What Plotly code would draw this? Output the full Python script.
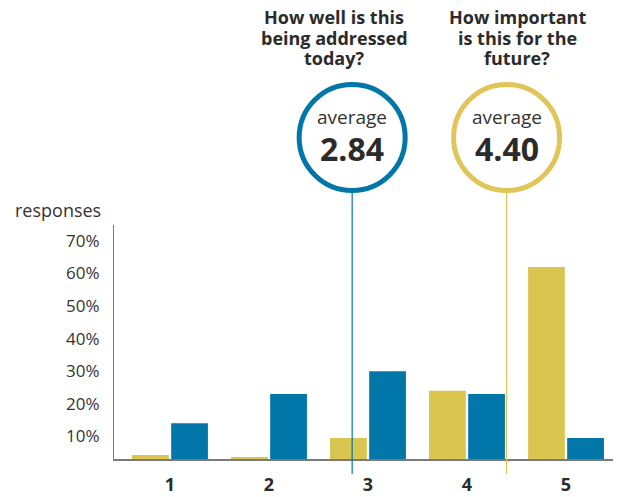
import plotly.graph_objects as go

categories = [1, 2, 3, 4, 5]
future_importance = [4.3, 3.7, 9.5, 24.0, 62.0]   # yellow
addressed_today = [14.0, 23.0, 30.0, 23.0, 9.5]   # blue
avg_today = 2.84
avg_future = 4.40
tick_vals = [10, 20, 30, 40, 50, 60, 70]
tick_text = ["10%", "20%", "30%", "40%", "50%", "60%", "70%"]
title_today = ["How well is this", "being addressed", "today?"]
title_future = ["How important", "is this for the", "future?"]

BLUE = "#0077A8"
YELLOW = "#D9C54F"
YELLOW_RING = "#E2C559"
TXT = "#2b2b2b"
FONT = "Open Sans"

fig = go.Figure()
fig.add_trace(go.Bar(x=categories, y=future_importance, marker_color=YELLOW,
                     marker_line_width=0, name="future"))
fig.add_trace(go.Bar(x=categories, y=addressed_today, marker_color=BLUE,
                     marker_line_width=0, name="today"))

W, H = 618, 497
L, R, T, B = 114, 5, 225, 38
ph = H - T - B
pw = W - L - R

def py(pix):
    return 1 + (T - pix) / ph

def px(pix):
    return (pix - L) / pw

shapes = []
for avg, col in [(avg_today, BLUE), (avg_future, YELLOW_RING)]:
    shapes.append(dict(type="line", xref="x", yref="paper", x0=avg, x1=avg,
                       y0=py(474), y1=py(190), line=dict(color=col, width=1.2), layer="above"))
    shapes.append(dict(type="circle", xref="x", yref="paper", xsizemode="pixel", ysizemode="pixel",
                       xanchor=avg, yanchor=py(137.5), x0=-53, x1=53, y0=-53, y1=53,
                       line=dict(color=col, width=5), fillcolor="white", layer="above"))

annotations = []
for avg, label in [(avg_today, f"{avg_today:.2f}"), (avg_future, f"{avg_future:.2f}")]:
    annotations.append(dict(x=avg, y=py(117), xref="x", yref="paper", text="average",
                            showarrow=False, font=dict(family=FONT, size=19, color="#333333"),
                            xanchor="center", yanchor="middle"))
    annotations.append(dict(x=avg, y=py(148), xref="x", yref="paper", text=f"<b>{label}</b>",
                            showarrow=False, font=dict(family=FONT, size=32, color=TXT),
                            xanchor="center", yanchor="middle"))

for lines, cx in [(title_today, 334), (title_future, 517)]:
    for i, line in enumerate(lines):
        annotations.append(dict(x=px(cx), y=py(17 + 20.5 * i), xref="paper", yref="paper",
                                text=f"<b>{line}</b>", showarrow=False,
                                font=dict(family=FONT, size=18, color=TXT),
                                xanchor="center", yanchor="middle"))

annotations.append(dict(x=px(103), y=py(210), xref="paper", yref="paper", text="responses",
                        showarrow=False, font=dict(family=FONT, size=18, color="#333333"),
                        xanchor="right", yanchor="middle"))

px_per_unit = 99.0
x0 = 1 - (170 - L) / px_per_unit
x1 = 1 + (W - R - 170) / px_per_unit
px_per_pct = 3.26
y_lo = (469 - 459) / px_per_pct
y_hi = (469 - T) / px_per_pct

fig.update_layout(
    width=W, height=H,
    margin=dict(l=L, r=R, t=T, b=B),
    paper_bgcolor="white", plot_bgcolor="white",
    barmode="group", bargap=0.21, bargroupgap=0.06,
    showlegend=False,
    font=dict(family=FONT, color=TXT),
    shapes=shapes, annotations=annotations,
    xaxis=dict(range=[x0, x1], tickvals=categories,
               ticktext=[f"<b>{c}</b>" for c in categories],
               tickfont=dict(family=FONT, size=18, color=TXT),
               showgrid=False, zeroline=False, showline=True, linecolor="#7a7a7a",
               linewidth=1.5, ticks="", ticklabelstandoff=9, automargin=False),
    yaxis=dict(range=[y_lo, y_hi], tickvals=tick_vals, ticktext=tick_text,
               tickfont=dict(family=FONT, size=17, color="#333333"),
               showgrid=False, zeroline=False, showline=True, linecolor="#7a7a7a",
               linewidth=1, ticks="", ticklabelstandoff=10, automargin=False),
)

fig.write_html("out.html", config={"displayModeBar": False},
               post_script="document.body.style.margin='0';document.body.style.overflow='hidden';")
